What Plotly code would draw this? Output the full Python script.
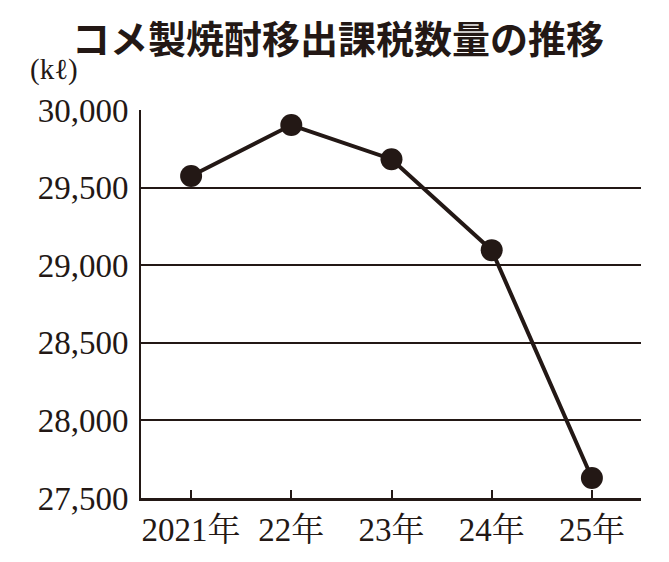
import plotly.graph_objects as go

categories = ["2021年", "22年", "23年", "24年", "25年"]
values = [29575, 29903, 29683, 29097, 27629]
y_ticks = [27500, 28000, 28500, 29000, 29500, 30000]
y_tick_labels = ["27,500", "28,000", "28,500", "29,000", "29,500", "30,000"]

INK = "#231815"
SERIF = "Liberation Serif, 'Noto Serif CJK JP', 'Noto Sans CJK JP', serif"

W, H = 669, 562
ML, MR, MT, MB = 133, 36, 102, 72
PW = W - ML - MR
PH = H - MT - MB

fig = go.Figure()
fig.add_trace(go.Scatter(
    x=list(range(len(categories))), y=values,
    mode="lines+markers",
    line=dict(color=INK, width=4),
    marker=dict(color=INK, size=22),
    cliponaxis=False,
    showlegend=False,
))

fig.update_layout(
    width=W, height=H,
    margin=dict(l=ML, r=MR, t=MT, b=MB),
    paper_bgcolor="white", plot_bgcolor="white",
    title=dict(
        text="<b>コメ製焼酎移出課税数量の推移</b>",
        font=dict(family="'Noto Sans CJK JP', sans-serif", size=38, color=INK),
        x=330 / W, xanchor="center", y=1 - 32 / H, yanchor="middle",
    ),
    xaxis=dict(
        range=[-0.5, 4.49],
        tickmode="array",
        tickvals=list(range(len(categories))),
        ticktext=categories,
        ticks="inside", ticklen=8, tickwidth=2, tickcolor=INK,
        showline=True, linecolor=INK, linewidth=3,
        showgrid=False, zeroline=False,
        tickfont=dict(family=SERIF, size=33, color=INK),
        ticklabelstandoff=0,
    ),
    yaxis=dict(
        range=[27500, 30000],
        tickmode="array",
        tickvals=y_ticks,
        ticktext=y_tick_labels,
        ticks="",
        showline=True, linecolor=INK, linewidth=2,
        showgrid=True, gridcolor=INK, gridwidth=2,
        zeroline=False,
        tickfont=dict(family=SERIF, size=33, color=INK),
        ticklabelstandoff=4,
    ),
)

fig.add_annotation(
    text="(kℓ)", xref="paper", yref="paper",
    x=-(ML - 20) / PW, xanchor="left", y=1 + (MT - 62) / PH, yanchor="middle",
    showarrow=False,
    font=dict(family=SERIF, size=29, color=INK),
)

fig.write_html("out.html")
